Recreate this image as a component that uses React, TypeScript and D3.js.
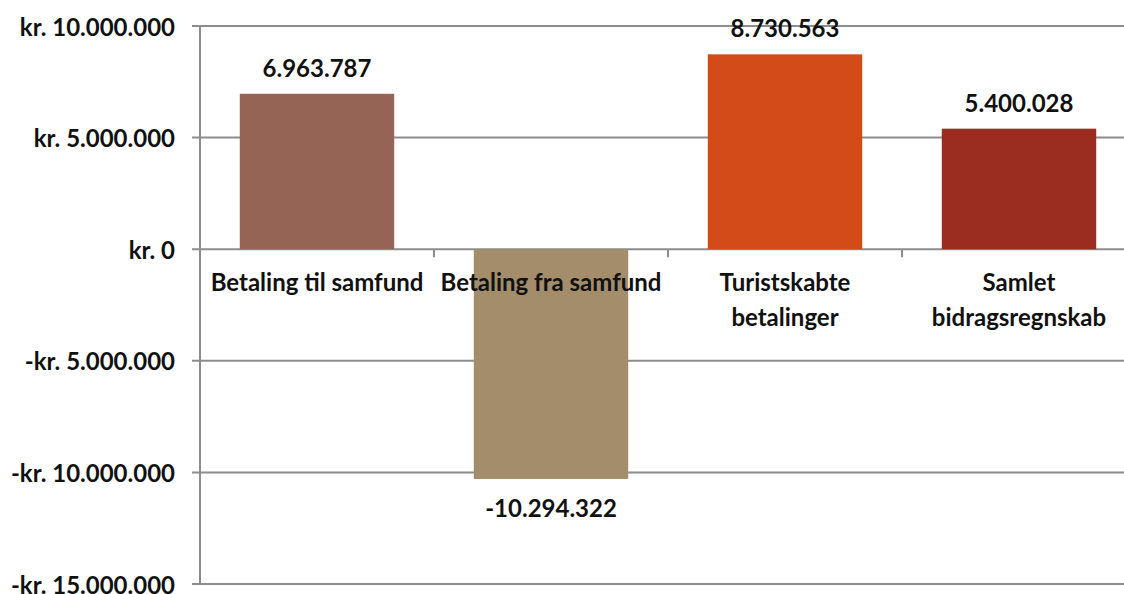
import React from 'react';
import * as d3 from 'd3';

const categories = [
  ['Betaling til samfund'],
  ['Betaling fra samfund'],
  ['Turistskabte', 'betalinger'],
  ['Samlet', 'bidragsregnskab'],
];
const values = [6963787, -10294322, 8730563, 5400028];
const barColors = ['#956454', '#a38d6b', '#d34b19', '#9a2d20'];
const yTicks = [10000000, 5000000, 0, -5000000, -10000000, -15000000];

const WIDTH = 1124;
const HEIGHT = 594;
const AXIS_X = 200;
const PLOT_RIGHT = 1136; // plot runs past the picture edge
const TOP = 26;
const BOTTOM = 584;
const FONT = 'Lato, "Open Sans", sans-serif';
const FS = 24;

// danish style thousands: 10.000.000
const fmt = (v: number) => d3.format(',')(v).replace(/,/g, '.');
const tickLabel = (v: number) => (v < 0 ? '-kr. ' : 'kr. ') + fmt(Math.abs(v));

const App: React.FC = () => {
  const y = d3.scaleLinear().domain([-15000000, 10000000]).range([BOTTOM, TOP]);
  const x = d3
    .scaleBand<number>()
    .domain(values.map((_, i) => i))
    .range([AXIS_X, PLOT_RIGHT])
    .paddingInner(0.34)
    .paddingOuter(0.17);
  const zero = y(0);

  return (
    <svg
      width={WIDTH}
      height={HEIGHT}
      style={{ position: 'absolute', left: 0, top: 0, background: '#fff' }}
      fontFamily={FONT}
      fontWeight="bold"
    >
      {/* gridlines + tick labels */}
      {yTicks.map((t) => (
        <g key={t}>
          <line x1={AXIS_X - 8} x2={WIDTH} y1={y(t)} y2={y(t)} stroke="#8c8c8c" strokeWidth={2} />
          <text x={175} y={y(t)} textAnchor="end" dominantBaseline="central" fontSize={FS} fill="#111">
            {tickLabel(t)}
          </text>
        </g>
      ))}
      <line x1={AXIS_X} x2={AXIS_X} y1={TOP} y2={BOTTOM} stroke="#8c8c8c" strokeWidth={2} />

      {/* bars */}
      {values.map((v, i) => (
        <rect
          key={i}
          x={x(i)}
          width={x.bandwidth()}
          y={Math.min(y(v), zero)}
          height={Math.abs(y(v) - zero)}
          fill={barColors[i]}
        />
      ))}

      {/* category ticks on zero line */}
      {values.slice(1).map((_, i) => {
        const cx = (x(i + 1) as number) - (x.step() * x.paddingInner()) / 2;
        return <line key={i} x1={cx} x2={cx} y1={zero} y2={zero + 8} stroke="#8c8c8c" strokeWidth={2} />;
      })}

      {/* value labels */}
      {values.map((v, i) => {
        const cx = (x(i) as number) + x.bandwidth() / 2;
        const ly = v >= 0 ? y(v) - 17 : y(v) + 38;
        return (
          <text key={i} x={cx} y={ly} textAnchor="middle" fontSize={FS} fill="#111">
            {(v < 0 ? '-' : '') + fmt(Math.abs(v))}
          </text>
        );
      })}

      {/* category labels */}
      {categories.map((lines, i) => {
        const cx = (x(i) as number) + x.bandwidth() / 2;
        return (
          <text key={i} x={cx} y={zero + 42} textAnchor="middle" fontSize={FS} fill="#111">
            {lines.map((l, j) => (
              <tspan key={j} x={cx} dy={j === 0 ? 0 : 35}>
                {l}
              </tspan>
            ))}
          </text>
        );
      })}
    </svg>
  );
};

export default App;
